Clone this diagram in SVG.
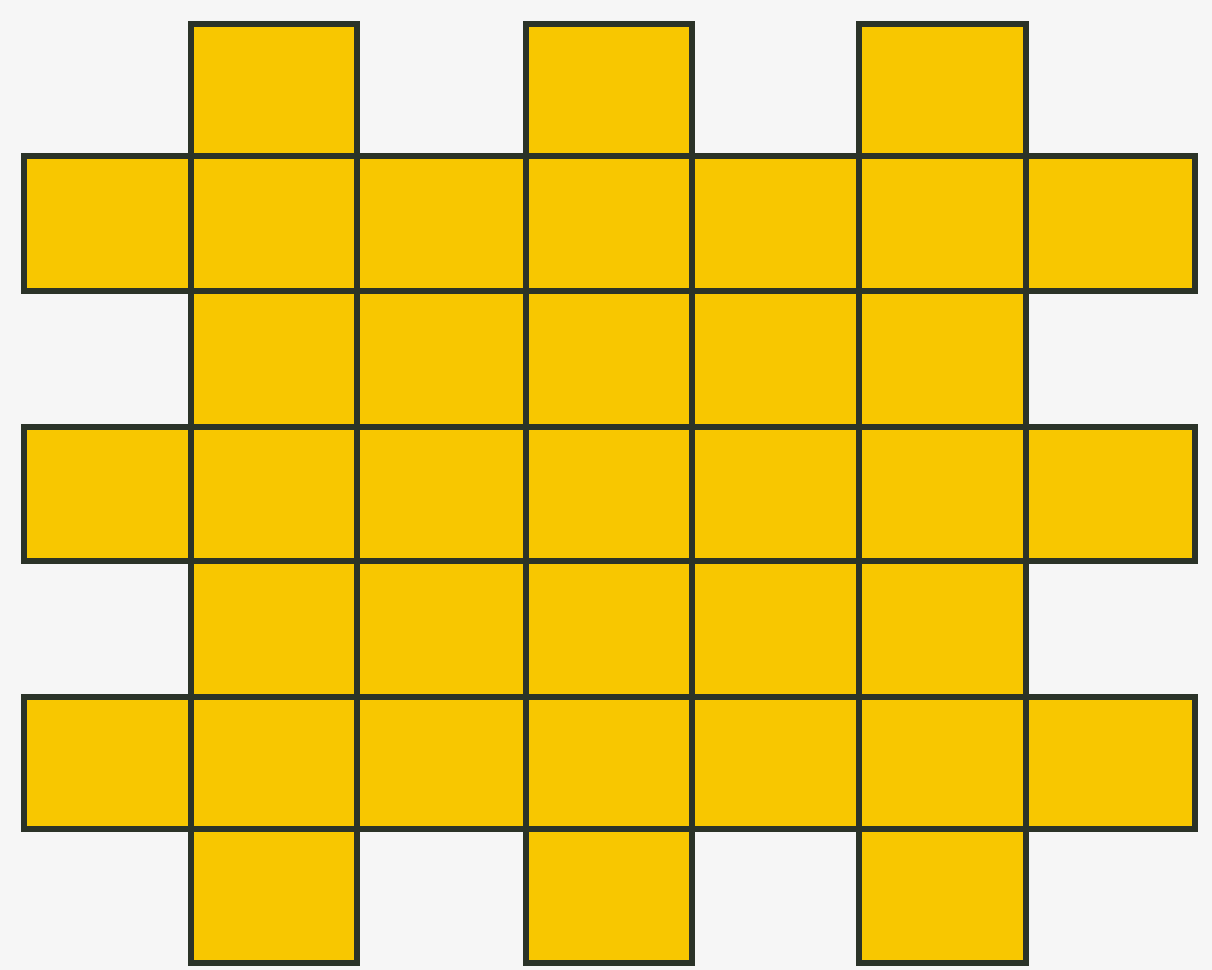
<svg xmlns="http://www.w3.org/2000/svg" width="1212" height="970" viewBox="0 0 1212 970">
<style>
.c{fill:#f8c700;stroke:#2b3328;stroke-width:6}
</style>
<rect width="1212" height="970" fill="#f6f6f6"/>
<g id="cells">
<!-- row 0 -->
<rect id="r0c1" class="c" x="191" y="24" width="166" height="132"/>
<rect id="r0c3" class="c" x="526" y="24" width="166" height="132"/>
<rect id="r0c5" class="c" x="859" y="24" width="167" height="132"/>
<!-- row 1 -->
<rect id="r1c0" class="c" x="24" y="156" width="167" height="135"/>
<rect id="r1c1" class="c" x="191" y="156" width="166" height="135"/>
<rect id="r1c2" class="c" x="357" y="156" width="169" height="135"/>
<rect id="r1c3" class="c" x="526" y="156" width="166" height="135"/>
<rect id="r1c4" class="c" x="692" y="156" width="167" height="135"/>
<rect id="r1c5" class="c" x="859" y="156" width="167" height="135"/>
<rect id="r1c6" class="c" x="1026" y="156" width="169" height="135"/>
<!-- row 2 -->
<rect id="r2c1" class="c" x="191" y="291" width="166" height="136"/>
<rect id="r2c2" class="c" x="357" y="291" width="169" height="136"/>
<rect id="r2c3" class="c" x="526" y="291" width="166" height="136"/>
<rect id="r2c4" class="c" x="692" y="291" width="167" height="136"/>
<rect id="r2c5" class="c" x="859" y="291" width="167" height="136"/>
<!-- row 3 -->
<rect id="r3c0" class="c" x="24" y="427" width="167" height="134"/>
<rect id="r3c1" class="c" x="191" y="427" width="166" height="134"/>
<rect id="r3c2" class="c" x="357" y="427" width="169" height="134"/>
<rect id="r3c3" class="c" x="526" y="427" width="166" height="134"/>
<rect id="r3c4" class="c" x="692" y="427" width="167" height="134"/>
<rect id="r3c5" class="c" x="859" y="427" width="167" height="134"/>
<rect id="r3c6" class="c" x="1026" y="427" width="169" height="134"/>
<!-- row 4 -->
<rect id="r4c1" class="c" x="191" y="561" width="166" height="136"/>
<rect id="r4c2" class="c" x="357" y="561" width="169" height="136"/>
<rect id="r4c3" class="c" x="526" y="561" width="166" height="136"/>
<rect id="r4c4" class="c" x="692" y="561" width="167" height="136"/>
<rect id="r4c5" class="c" x="859" y="561" width="167" height="136"/>
<!-- row 5 -->
<rect id="r5c0" class="c" x="24" y="697" width="167" height="132"/>
<rect id="r5c1" class="c" x="191" y="697" width="166" height="132"/>
<rect id="r5c2" class="c" x="357" y="697" width="169" height="132"/>
<rect id="r5c3" class="c" x="526" y="697" width="166" height="132"/>
<rect id="r5c4" class="c" x="692" y="697" width="167" height="132"/>
<rect id="r5c5" class="c" x="859" y="697" width="167" height="132"/>
<rect id="r5c6" class="c" x="1026" y="697" width="169" height="132"/>
<!-- row 6 -->
<rect id="r6c1" class="c" x="191" y="829" width="166" height="134"/>
<rect id="r6c3" class="c" x="526" y="829" width="166" height="134"/>
<rect id="r6c5" class="c" x="859" y="829" width="167" height="134"/>
</g>
</svg>
